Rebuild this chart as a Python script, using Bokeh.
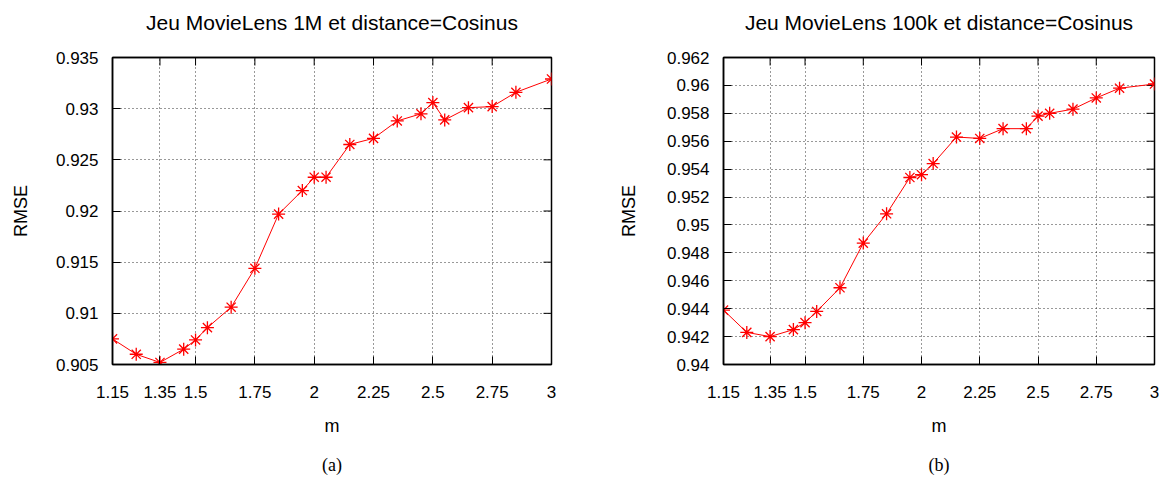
import math
from bokeh.plotting import figure
from bokeh.layouts import row
from bokeh.models import FixedTicker, Range1d, LinearAxis
from bokeh.embed import file_html
from bokeh.resources import INLINE

# ---- data ----
m_values = [1.15, 1.25, 1.35, 1.45, 1.5, 1.55, 1.65, 1.75, 1.85, 1.95, 2.0,
            2.05, 2.15, 2.25, 2.35, 2.45, 2.5, 2.55, 2.65, 2.75, 2.85, 3.0]
rmse_1m = [0.9075, 0.9060, 0.9052, 0.9065, 0.9074, 0.9086, 0.9106, 0.9144,
           0.9197, 0.9220, 0.9233, 0.9233, 0.9265, 0.9271, 0.9288, 0.9295,
           0.9306, 0.9289, 0.9301, 0.9302, 0.9316, 0.9329]
rmse_100k = [0.9439, 0.9423, 0.9420, 0.9425, 0.9430, 0.9438, 0.9455, 0.9487,
             0.9508, 0.9534, 0.9536, 0.9544, 0.9563, 0.9562, 0.9569, 0.9569,
             0.9578, 0.9580, 0.9583, 0.9591, 0.9598, 0.9601]

x_ticks = [1.15, 1.35, 1.5, 1.75, 2, 2.25, 2.5, 2.75, 3]
x_tick_labels = ["1.15", "1.35", "1.5", "1.75", "2", "2.25", "2.5", "2.75", "3"]

y_ticks_1m = [0.905, 0.91, 0.915, 0.92, 0.925, 0.93, 0.935]
y_tick_labels_1m = ["0.905", "0.91", "0.915", "0.92", "0.925", "0.93", "0.935"]

y_ticks_100k = [0.94, 0.942, 0.944, 0.946, 0.948, 0.95, 0.952, 0.954, 0.956,
                0.958, 0.96, 0.962]
y_tick_labels_100k = ["0.94", "0.942", "0.944", "0.946", "0.948", "0.95",
                      "0.952", "0.954", "0.956", "0.958", "0.96", "0.962"]

titles = ["Jeu MovieLens 1M et distance=Cosinus",
          "Jeu MovieLens 100k et distance=Cosinus"]
tags = ["(a)", "(b)"]
x_label = "m"
y_label = "RMSE"

SANS = "Liberation Sans"
SERIF = "Liberation Serif"


def text_axis(label, font, size, standoff, line_color):
    """A tick-less axis used only to carry a text line (title / tag)."""
    return LinearAxis(ticker=FixedTicker(ticks=[]), axis_label=label,
                      axis_label_standoff=standoff, major_label_standoff=0,
                      major_tick_in=0, major_tick_out=0,
                      minor_tick_in=0, minor_tick_out=0,
                      axis_line_color=line_color, axis_line_width=1.5,
                      axis_label_text_font=font,
                      axis_label_text_font_size=size,
                      axis_label_text_font_style="normal",
                      axis_label_text_color="black")


def make_plot(title_text, yvals, yticks, ylabels, width, bl, br, ylab_standoff, tag):
    p = figure(width=width, height=477,
               x_range=Range1d(x_ticks[0], x_ticks[-1]),
               y_range=Range1d(yticks[0], yticks[-1]),
               output_backend="svg", toolbar_location=None,
               min_border_left=bl, min_border_right=br,
               min_border_top=57, min_border_bottom=112)
    p.background_fill_color = "white"
    p.border_fill_color = "white"
    p.outline_line_color = "black"
    p.outline_line_width = 1.5

    xt = FixedTicker(ticks=x_ticks)
    yt = FixedTicker(ticks=yticks)

    for ax in p.xaxis:
        ax.ticker = xt
        ax.major_label_overrides = {t: l for t, l in zip(x_ticks, x_tick_labels)}
        ax.major_label_standoff = 21
        ax.axis_label = x_label
        ax.axis_label_standoff = 15
    for ax in p.yaxis:
        ax.ticker = yt
        ax.major_label_overrides = {t: l for t, l in zip(yticks, ylabels)}
        ax.axis_label = y_label
        ax.axis_label_standoff = ylab_standoff
        ax.major_label_standoff = 14
    for ax in list(p.xaxis) + list(p.yaxis):
        ax.major_tick_in = 8
        ax.major_tick_out = 0
        ax.minor_tick_in = 0
        ax.minor_tick_out = 0
        ax.major_tick_line_color = "black"
        ax.major_tick_line_width = 1
        ax.axis_line_color = "black"
        ax.axis_line_width = 1.5
        ax.major_label_text_font = SANS
        ax.major_label_text_font_size = "17px"
        ax.major_label_text_color = "black"
        ax.axis_label_text_font = SANS
        ax.axis_label_text_font_size = "18px"
        ax.axis_label_text_font_style = "normal"
        ax.axis_label_text_color = "black"

    # chart title on the top border, sub-figure tag under the x-axis label
    p.add_layout(text_axis(title_text, SANS, "21px", 24, "black"), "above")
    p.add_layout(text_axis(tag, SERIF, "18px", 16, None), "below")

    p.xgrid.ticker = xt
    p.ygrid.ticker = yt
    for g in (p.xgrid, p.ygrid):
        g.grid_line_color = "black"
        g.grid_line_alpha = 0.8
        g.grid_line_dash = "1 3"
        g.grid_line_width = 1

    # mirrored inward tick marks on the top and right borders
    p.ray(x=[x_ticks[-1]] * len(yticks), y=yticks, length=8,
          length_units="screen", angle=math.pi, line_color="black",
          line_width=1)
    p.ray(x=x_ticks, y=[yticks[-1]] * len(x_ticks), length=8,
          length_units="screen", angle=-math.pi / 2, line_color="black",
          line_width=1)

    p.line(m_values, yvals, line_color="red", line_width=1)
    p.scatter(m_values, yvals, marker="asterisk", size=13,
              line_color="red", line_width=1.3)
    return p


p1 = make_plot(titles[0], rmse_1m, y_ticks_1m, y_tick_labels_1m,
               615, 112, 64, 22, tags[0])
p2 = make_plot(titles[1], rmse_100k, y_ticks_100k, y_tick_labels_100k,
               544, 100, 5, 25, tags[1])

layout = row(p1, p2)
open("out.html", "w").write(file_html(layout, INLINE))
